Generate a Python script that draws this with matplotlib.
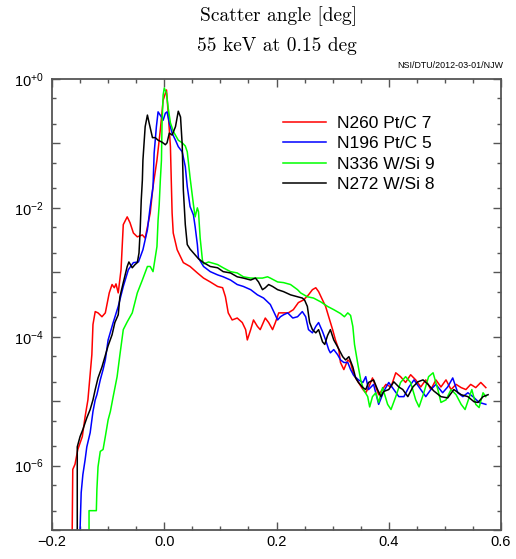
import numpy as np
import matplotlib
matplotlib.use('Agg')
import matplotlib.pyplot as plt
from matplotlib.ticker import LogLocator, FuncFormatter, MultipleLocator, NullFormatter

plt.rcParams['font.family'] = ['Liberation Sans', 'DejaVu Sans']
plt.rcParams['mathtext.fontset'] = 'custom'
plt.rcParams['mathtext.rm'] = 'Liberation Sans'
plt.rcParams['mathtext.it'] = 'Liberation Sans:italic'
plt.rcParams['mathtext.bf'] = 'Liberation Sans:bold'

# (scatter angle [deg], log10 of normalised intensity)
red_pts = [
    (-0.164, -6.99), (-0.163, -6.06), (-0.159, -5.98), (-0.154, -5.75), (-0.146, -5.55),
    (-0.141, -5.24), (-0.136, -4.98), (-0.129, -4.28), (-0.127, -3.81), (-0.123, -3.61),
    (-0.118, -3.63), (-0.111, -3.69), (-0.105, -3.63), (-0.098, -3.32), (-0.093, -3.19),
    (-0.089, -3.24), (-0.086, -3.18), (-0.082, -3.32), (-0.077, -2.96), (-0.073, -2.26),
    (-0.066, -2.14), (-0.061, -2.23), (-0.055, -2.39), (-0.048, -2.45), (-0.039, -2.42),
    (-0.034, -2.47), (-0.025, -2.08), (-0.020, -1.67), (-0.013, -1.26), (-0.007, -0.79),
    (-0.002, -0.33), (0.004, -0.17), (0.007, -0.53), (0.011, -1.05), (0.0125, -1.57),
    (0.014, -2.08), (0.016, -2.39), (0.023, -2.65), (0.034, -2.85), (0.046, -2.91),
    (0.059, -3.01), (0.070, -3.09), (0.082, -3.15), (0.095, -3.22), (0.104, -3.24),
    (0.109, -3.38), (0.114, -3.63), (0.121, -3.74), (0.130, -3.71), (0.139, -3.78),
    (0.145, -3.89), (0.148, -4.05), (0.154, -3.89), (0.159, -3.74), (0.166, -3.84),
    (0.171, -3.89), (0.180, -3.71), (0.186, -3.78), (0.193, -3.89), (0.198, -3.78),
    (0.204, -3.63), (0.2125, -3.63), (0.221, -3.63), (0.230, -3.58), (0.239, -3.47),
    (0.248, -3.43), (0.257, -3.35), (0.264, -3.27), (0.270, -3.24), (0.275, -3.30),
    (0.282, -3.43), (0.2875, -3.53), (0.293, -3.69), (0.300, -3.89), (0.305, -4.05),
    (0.311, -4.20), (0.314, -4.40), (0.320, -4.51), (0.327, -4.36), (0.332, -4.40),
    (0.3375, -4.59), (0.346, -4.71), (0.354, -4.82), (0.359, -4.87), (0.364, -4.79),
    (0.371, -4.64), (0.377, -4.78), (0.382, -4.90), (0.395, -4.74), (0.404, -4.78),
    (0.4125, -4.56), (0.421, -4.62), (0.430, -4.71), (0.439, -4.59), (0.448, -4.67),
    (0.457, -4.78), (0.466, -4.67), (0.475, -4.82), (0.484, -4.67), (0.493, -4.78),
    (0.502, -4.67), (0.511, -4.82), (0.520, -4.74), (0.529, -4.79), (0.5375, -4.82),
    (0.546, -4.74), (0.555, -4.79), (0.564, -4.71), (0.573, -4.79),
]

blue_pts = [
    (-0.150, -6.99), (-0.148, -6.42), (-0.145, -6.14), (-0.141, -5.91), (-0.138, -5.71),
    (-0.132, -5.49), (-0.127, -5.16), (-0.123, -4.98), (-0.120, -4.90), (-0.114, -4.67),
    (-0.109, -4.51), (-0.105, -4.36), (-0.100, -4.05), (-0.091, -3.78), (-0.082, -3.53),
    (-0.073, -3.22), (-0.064, -2.96), (-0.055, -2.85), (-0.046, -2.84), (-0.038, -2.65),
    (-0.030, -2.34), (-0.025, -1.98), (-0.020, -1.67), (-0.018, -1.15), (-0.014, -0.74),
    (-0.011, -0.51), (-0.005, -0.59), (-0.002, -0.64), (0.002, -0.53), (0.005, -0.51),
    (0.009, -0.68), (0.014, -0.84), (0.020, -0.95), (0.025, -1.05), (0.032, -1.13),
    (0.0375, -1.36), (0.041, -1.67), (0.046, -1.98), (0.052, -2.11), (0.055, -2.29),
    (0.059, -2.57), (0.061, -2.78), (0.070, -2.91), (0.082, -2.99), (0.095, -3.04),
    (0.105, -3.07), (0.118, -3.12), (0.130, -3.19), (0.141, -3.22), (0.154, -3.27),
    (0.166, -3.35), (0.177, -3.40), (0.189, -3.50), (0.195, -3.61), (0.202, -3.74),
    (0.207, -3.69), (0.2125, -3.66), (0.220, -3.63), (0.229, -3.71), (0.2375, -3.69),
    (0.246, -3.61), (0.252, -3.69), (0.257, -3.89), (0.264, -3.94), (0.270, -3.84),
    (0.275, -3.78), (0.282, -3.92), (0.2875, -4.05), (0.293, -4.20), (0.296, -4.25),
    (0.302, -4.20), (0.309, -4.28), (0.314, -4.36), (0.320, -4.40), (0.327, -4.40),
    (0.332, -4.51), (0.3375, -4.60), (0.346, -4.67), (0.354, -4.71), (0.359, -4.62),
    (0.364, -4.82), (0.373, -4.74), (0.382, -5.05), (0.391, -4.85), (0.400, -4.71),
    (0.409, -4.82), (0.418, -4.93), (0.427, -4.93), (0.436, -4.78), (0.445, -4.67),
    (0.457, -4.82), (0.466, -4.93), (0.475, -4.82), (0.484, -4.74), (0.496, -4.87),
    (0.505, -4.78), (0.514, -4.64), (0.523, -4.87), (0.532, -4.93), (0.541, -4.87),
    (0.550, -4.93), (0.561, -5.02), (0.573, -5.05),
]

green_pts = [
    (-0.134, -6.99), (-0.134, -6.70), (-0.121, -6.70), (-0.120, -6.37), (-0.118, -6.02),
    (-0.114, -5.78), (-0.109, -5.75), (-0.105, -5.55), (-0.100, -5.29), (-0.096, -5.16),
    (-0.091, -4.93), (-0.084, -4.62), (-0.079, -4.28), (-0.073, -3.89), (-0.066, -3.77),
    (-0.057, -3.63), (-0.048, -3.32), (-0.039, -3.12), (-0.030, -2.91), (-0.025, -2.91),
    (-0.020, -2.99), (-0.013, -2.60), (-0.011, -2.19), (-0.009, -1.95), (-0.007, -1.57),
    (-0.005, -1.26), (-0.004, -0.71), (-0.002, -0.25), (0.000, -0.14), (0.004, -0.22),
    (0.007, -0.45), (0.011, -0.68), (0.016, -0.81), (0.025, -0.95), (0.032, -0.99),
    (0.0375, -1.04), (0.041, -1.13), (0.046, -1.53), (0.052, -1.95), (0.055, -2.14),
    (0.059, -2.00), (0.061, -2.06), (0.064, -2.47), (0.068, -2.81), (0.070, -2.87),
    (0.079, -2.84), (0.095, -2.88), (0.105, -2.93), (0.118, -2.99), (0.130, -3.01),
    (0.141, -3.07), (0.154, -3.09), (0.166, -3.09), (0.175, -3.09), (0.184, -3.07),
    (0.189, -3.09), (0.202, -3.15), (0.2125, -3.16), (0.225, -3.19), (0.2375, -3.27),
    (0.243, -3.32), (0.255, -3.38), (0.266, -3.40), (0.279, -3.46), (0.291, -3.53),
    (0.302, -3.58), (0.314, -3.64), (0.321, -3.69), (0.327, -3.63), (0.332, -3.67),
    (0.336, -3.84), (0.339, -4.12), (0.345, -4.43), (0.350, -4.67), (0.355, -4.82),
    (0.3625, -4.93), (0.366, -5.09), (0.371, -4.93), (0.377, -4.87), (0.382, -5.02),
    (0.389, -4.79), (0.398, -5.05), (0.404, -5.13), (0.4125, -4.93), (0.421, -4.71),
    (0.430, -4.62), (0.439, -4.71), (0.448, -4.98), (0.454, -5.09), (0.4625, -4.87),
    (0.471, -4.62), (0.479, -4.56), (0.4875, -4.82), (0.493, -5.02), (0.502, -4.98),
    (0.511, -4.82), (0.520, -4.90), (0.529, -5.05), (0.536, -5.13), (0.543, -4.95),
    (0.548, -4.82), (0.555, -5.05), (0.561, -5.10), (0.568, -4.87), (0.573, -4.93),
]

black_pts = [
    (-0.155, -6.99), (-0.155, -5.71), (-0.150, -5.55), (-0.145, -5.44), (-0.138, -5.26),
    (-0.132, -5.13), (-0.127, -4.98), (-0.123, -4.82), (-0.118, -4.64), (-0.111, -4.47),
    (-0.105, -4.29), (-0.100, -4.14), (-0.093, -3.97), (-0.088, -3.78), (-0.082, -3.66),
    (-0.079, -3.38), (-0.073, -3.16), (-0.066, -2.91), (-0.063, -2.84), (-0.057, -2.93),
    (-0.052, -2.88), (-0.048, -2.85), (-0.045, -2.70), (-0.043, -2.37), (-0.041, -1.88),
    (-0.039, -1.57), (-0.038, -1.26), (-0.034, -0.74), (-0.030, -0.56), (-0.027, -0.68),
    (-0.021, -0.91), (-0.016, -0.91), (-0.011, -0.95), (-0.004, -0.98), (0.002, -1.02),
    (0.005, -0.99), (0.009, -0.84), (0.014, -0.87), (0.020, -0.74), (0.025, -0.50),
    (0.029, -0.59), (0.032, -1.02), (0.034, -1.72), (0.0375, -2.26), (0.041, -2.57),
    (0.046, -2.64), (0.052, -2.70), (0.061, -2.79), (0.070, -2.85), (0.082, -2.91),
    (0.095, -2.93), (0.105, -2.99), (0.118, -3.01), (0.130, -3.07), (0.141, -3.09),
    (0.154, -3.12), (0.1625, -3.09), (0.168, -3.15), (0.175, -3.27), (0.180, -3.24),
    (0.186, -3.19), (0.193, -3.22), (0.202, -3.27), (0.2125, -3.30), (0.225, -3.35),
    (0.2375, -3.38), (0.246, -3.40), (0.250, -3.43), (0.255, -3.53), (0.259, -3.78),
    (0.264, -3.89), (0.270, -3.94), (0.275, -3.89), (0.282, -4.08), (0.286, -4.12),
    (0.291, -3.98), (0.296, -3.89), (0.302, -4.05), (0.309, -4.16), (0.318, -4.31),
    (0.323, -4.36), (0.329, -4.31), (0.336, -4.47), (0.341, -4.64), (0.346, -4.71),
    (0.354, -4.79), (0.359, -4.82), (0.364, -4.71), (0.373, -4.67), (0.380, -4.82),
    (0.386, -4.93), (0.391, -4.85), (0.400, -4.82), (0.409, -4.70), (0.418, -4.78),
    (0.425, -4.82), (0.434, -4.93), (0.443, -4.78), (0.452, -4.70), (0.461, -4.67),
    (0.470, -4.74), (0.480, -4.84), (0.493, -4.93), (0.505, -4.95), (0.516, -4.82),
    (0.529, -4.90), (0.541, -4.93), (0.552, -5.01), (0.559, -5.02), (0.568, -4.93),
    (0.577, -4.90),
]

labels = ['N260 Pt/C 7', 'N196 Pt/C 5', 'N336 W/Si 9', 'N272 W/Si 8']
colors = ['#ff0000', '#0000ff', '#00ff00', '#000000']
series = [red_pts, blue_pts, green_pts, black_pts]

frame_col = '#555555'

fig = plt.figure(figsize=(5.16, 5.59), dpi=100)
ax = fig.add_axes([52 / 516, 1 - 530 / 559, (501 - 52) / 516, (530 - 79) / 559])

for pts, col, lab in zip(series, colors, labels):
    arr = np.array(pts)
    ax.plot(arr[:, 0], 10.0 ** arr[:, 1], color=col, lw=1.1, label=lab)

ax.set_yscale('log')
ax.set_xlim(-0.2, 0.6)
ax.set_ylim(1e-7, 1)


def yfmt(v, pos):
    e = int(round(np.log10(v)))
    if e % 2:
        return ''
    sign = '+' if e >= 0 else '-'
    return r'10$^{%s%d}$' % (sign, abs(e))


def xfmt(v, pos):
    s = '%.1f' % v
    if s == '-0.0':
        s = '0.0'
    return s.replace('-', '\u2212')


ax.yaxis.set_major_locator(LogLocator(base=10, subs=(1.0,), numticks=20))
ax.yaxis.set_minor_locator(LogLocator(base=10, subs=(2.0, 5.0), numticks=20))
ax.yaxis.set_major_formatter(FuncFormatter(yfmt))
ax.yaxis.set_minor_formatter(NullFormatter())
ax.xaxis.set_major_locator(MultipleLocator(0.2))
ax.xaxis.set_minor_locator(MultipleLocator(0.05))
ax.xaxis.set_major_formatter(FuncFormatter(xfmt))

ax.tick_params(which='both', direction='in', top=True, right=True,
               color=frame_col, width=1.0)
ax.tick_params(which='major', length=6, labelsize=10.5)
ax.tick_params(axis='x', which='major', pad=3.5)
ax.tick_params(axis='y', which='major', pad=6)
ax.tick_params(which='minor', length=3.2)
for sp in ax.spines.values():
    sp.set_color(frame_col)
    sp.set_linewidth(1.3)

ax.legend(loc='upper left', bbox_to_anchor=(0.514, 0.918), frameon=False,
          fontsize=12.5, handlelength=2.5, handletextpad=0.65,
          labelspacing=0.3, borderpad=0, borderaxespad=0)

fig.text(278 / 516, 1 - 16 / 559, 'Scatter angle [deg]', ha='center', va='center',
         fontfamily='cmr10', fontsize=14)
fig.text(277 / 516, 1 - 46 / 559, '55 keV at 0.15 deg', ha='center', va='center',
         fontfamily='cmr10', fontsize=14)
fig.text(503 / 516, 1 - 66 / 559, 'NSI/DTU/2012-03-01/NJW', ha='right', va='center',
         fontsize=6.4)

fig.savefig('out.png', dpi=100)
